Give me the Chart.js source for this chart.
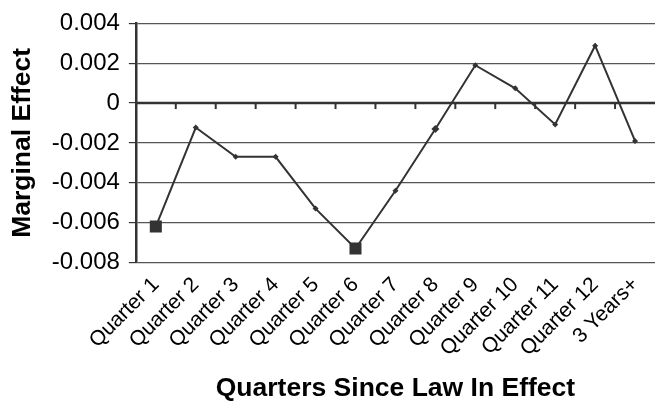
<!DOCTYPE html>
<html>
<head>
<meta charset="utf-8">
<script src="https://cdn.jsdelivr.net/npm/chart.js@4.4.0/dist/chart.umd.min.js"></script>
<style>
  body { margin: 0; background: #fff; }
  #wrap { width: 655px; height: 405px; }
</style>
</head>
<body>
<div id="wrap"><canvas id="effect-chart"></canvas></div>
<script>
// data
const quarters = ["Quarter 1", "Quarter 2", "Quarter 3", "Quarter 4", "Quarter 5", "Quarter 6",
  "Quarter 7", "Quarter 8", "Quarter 9", "Quarter 10", "Quarter 11", "Quarter 12", "3 Years+"];
const marginalEffect = [-0.0062, -0.00123, -0.0027, -0.0027, -0.0053, -0.0073,
  -0.0044, -0.0013, 0.0019, 0.00074, -0.00107, 0.00288, -0.0019];
const yTicks = [-0.008, -0.006, -0.004, -0.002, 0, 0.002, 0.004];
// the two big squares
const bigPoints = [0, 5];

const ink = "#333";

// zero line with small tick marks between the categories
const zeroLine = {
  id: "zeroLine",
  beforeDatasetsDraw(chart) {
    const ctx = chart.ctx;
    const x = chart.scales.x;
    const y0 = chart.scales.y.getPixelForValue(0);
    ctx.save();
    ctx.strokeStyle = ink;
    ctx.lineWidth = 2.5;
    ctx.beginPath();
    ctx.moveTo(chart.chartArea.left, y0);
    ctx.lineTo(chart.chartArea.right, y0);
    ctx.stroke();
    ctx.lineWidth = 2;
    for (let i = 0; i < quarters.length - 1; i++) {
      const xm = (x.getPixelForValue(i) + x.getPixelForValue(i + 1)) / 2;
      ctx.beginPath();
      ctx.moveTo(xm, y0);
      ctx.lineTo(xm, y0 + 6);
      ctx.stroke();
    }
    ctx.restore();
  },
};

const data = {
  labels: quarters,
  datasets: [
    {
      data: marginalEffect,
      borderColor: ink,
      backgroundColor: ink,
      borderWidth: 2,
      tension: 0,
      pointStyle: quarters.map((q, i) => (bigPoints.includes(i) ? "rect" : "rectRot")),
      pointRadius: quarters.map((q, i) => (bigPoints.includes(i) ? 8.5 : i == 7 ? 4 : 3)),
      pointBorderWidth: 0,
    },
  ],
};

const config = {
  type: "line",
  data: data,
  options: {
    responsive: true,
    maintainAspectRatio: false,
    animation: false,
    layout: { autoPadding: false, padding: { left: 7, top: 20, right: 0, bottom: 0 } },
    plugins: {
      legend: { display: false },
      tooltip: { enabled: false },
    },
    scales: {
      x: {
        offset: true,
        grid: { display: false },
        border: { display: false },
        afterFit: (scale) => {
          scale.paddingRight = 0;
        },
        ticks: {
          color: "#000",
          font: { family: "Liberation Sans, Arial", size: 21 },
          minRotation: 45,
          maxRotation: 45,
          padding: 2,
          autoSkip: false,
        },
        title: {
          display: true,
          text: "Quarters Since Law In Effect",
          color: "#000",
          font: { family: "Liberation Sans, Arial", size: 26.5, weight: "bold" },
          padding: { top: 10, bottom: 0 },
        },
      },
      y: {
        min: -0.008,
        max: 0.004,
        afterBuildTicks: (axis) => {
          axis.ticks = yTicks.map((v) => ({ value: v }));
        },
        grid: { color: "#555", lineWidth: 1.2, tickLength: 7, drawTicks: true, tickColor: ink },
        border: { color: ink, width: 2.5 },
        ticks: {
          color: "#000",
          font: { family: "Liberation Sans, Arial", size: 24 },
          padding: 9,
          callback: (v) => String(Number(v.toFixed(3))),
        },
        title: {
          display: true,
          text: "Marginal Effect",
          color: "#000",
          font: { family: "Liberation Sans, Arial", size: 26.5, weight: "bold" },
          padding: { top: 0, bottom: 4 },
        },
      },
    },
  },
  plugins: [zeroLine],
};

const myChart = new Chart(document.getElementById("effect-chart"), config);
</script>
</body>
</html>
